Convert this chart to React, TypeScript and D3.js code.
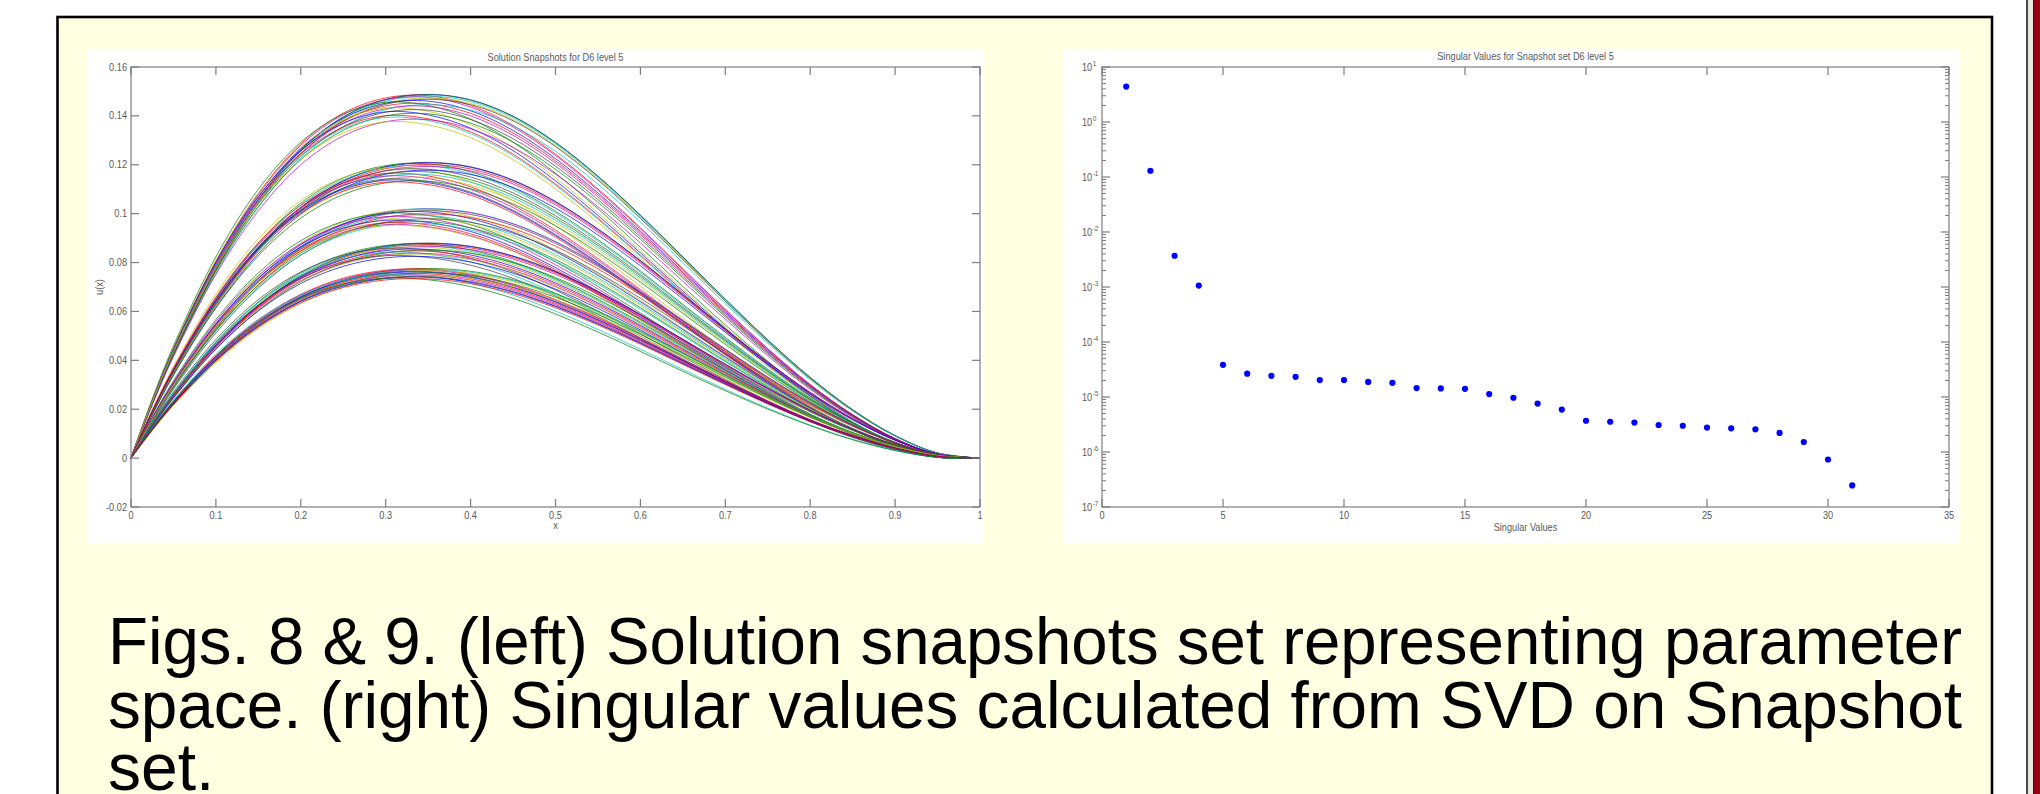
import React from 'react';
import * as d3 from 'd3';

// ---------- Left chart: solution snapshots ----------
const xGrid = [0, 0.025, 0.05, 0.1, 0.15, 0.2, 0.25, 0.3, 0.35, 0.4, 0.45, 0.5, 0.55, 0.6, 0.65, 0.7, 0.75, 0.8, 0.85, 0.9, 0.95, 1];
// normalised snapshot profiles (peak = 1)
const profileA = [0, 0.15, 0.288, 0.523, 0.71, 0.848, 0.938, 0.986, 1.0, 0.985, 0.94, 0.868, 0.775, 0.668, 0.553, 0.437, 0.325, 0.222, 0.133, 0.062, 0.014, 0];
const profileB = [0, 0.158, 0.3, 0.542, 0.73, 0.866, 0.951, 0.993, 0.999, 0.972, 0.917, 0.838, 0.742, 0.635, 0.522, 0.41, 0.302, 0.203, 0.12, 0.054, 0.01, 0];
const profileC = [0, 0.166, 0.315, 0.565, 0.755, 0.887, 0.966, 0.999, 0.99, 0.952, 0.887, 0.8, 0.7, 0.592, 0.482, 0.374, 0.272, 0.18, 0.102, 0.042, 0.004, 0];

// peak heights of the snapshot curves in each of the five bands, and which profile each follows
const band1Peaks = [0.1488, 0.1487, 0.1484, 0.1481, 0.1477, 0.1473, 0.1468, 0.1462, 0.1457, 0.1451, 0.1446, 0.144, 0.1433, 0.1425, 0.1418, 0.141, 0.1402, 0.1395, 0.1386, 0.1377];
const band1Profile = [0, 0, 1, 0, 1, 0, 0, 1, 2, 1, 0, 1, 2, 1, 2, 1, 2, 2, 1, 2];
const band2Peaks = [0.121, 0.1208, 0.1205, 0.1201, 0.1197, 0.1193, 0.1188, 0.1183, 0.1178, 0.1172, 0.1166, 0.1161, 0.1155, 0.1149, 0.1143, 0.1138, 0.1134, 0.113];
const band2Profile = [0, 0, 1, 0, 1, 0, 2, 1, 0, 1, 2, 1, 2, 1, 2, 2, 1, 2];
const band3Peaks = [0.1021, 0.1019, 0.1016, 0.1012, 0.1008, 0.1003, 0.0999, 0.0994, 0.0989, 0.0984, 0.0979, 0.0974, 0.0969, 0.0964, 0.096, 0.0956, 0.0953];
const band3Profile = [0, 0, 1, 0, 1, 2, 0, 1, 2, 1, 0, 2, 1, 2, 1, 2, 2];
const band4Peaks = [0.088, 0.0878, 0.0876, 0.0873, 0.087, 0.0866, 0.0863, 0.0859, 0.0855, 0.0851, 0.0847, 0.0843, 0.0838, 0.0834, 0.0829, 0.0825];
const band4Profile = [0, 0, 1, 0, 1, 0, 1, 2, 1, 0, 1, 2, 1, 1, 2, 1];
const band5Peaks = [0.0776, 0.0774, 0.0772, 0.077, 0.0767, 0.0764, 0.0761, 0.0758, 0.0755, 0.0752, 0.0749, 0.0746, 0.0743, 0.074, 0.0737, 0.0734];
const band5Profile = [0, 1, 0, 1, 0, 1, 1, 0, 1, 2, 1, 0, 1, 1, 2, 1];

const leftXTicks = [0, 0.1, 0.2, 0.3, 0.4, 0.5, 0.6, 0.7, 0.8, 0.9, 1];
const leftXLabels = ['0', '0.1', '0.2', '0.3', '0.4', '0.5', '0.6', '0.7', '0.8', '0.9', '1'];
const leftYTicks = [-0.02, 0, 0.02, 0.04, 0.06, 0.08, 0.1, 0.12, 0.14, 0.16];
const leftYLabels = ['-0.02', '0', '0.02', '0.04', '0.06', '0.08', '0.1', '0.12', '0.14', '0.16'];

// ---------- Right chart: singular values ----------
const svIndex = [1, 2, 3, 4, 5, 6, 7, 8, 9, 10, 11, 12, 13, 14, 15, 16, 17, 18, 19, 20, 21, 22, 23, 24, 25, 26, 27, 28, 29, 30, 31];
const svValues = [4.4, 0.13, 0.0037, 0.00106, 3.85e-5, 2.65e-5, 2.43e-5, 2.33e-5, 2.03e-5, 2.03e-5, 1.88e-5, 1.81e-5, 1.45e-5, 1.43e-5, 1.41e-5, 1.13e-5, 9.7e-6, 7.6e-6, 5.9e-6, 3.7e-6, 3.55e-6, 3.43e-6, 3.1e-6, 3.0e-6, 2.78e-6, 2.7e-6, 2.58e-6, 2.22e-6, 1.52e-6, 7.3e-7, 2.47e-7];
const rightXTicks = [0, 5, 10, 15, 20, 25, 30, 35];
const rightYExponents = [1, 0, -1, -2, -3, -4, -5, -6, -7];

const captionLines = [
  'Figs. 8 & 9. (left) Solution snapshots set representing parameter',
  'space. (right) Singular values calculated from SVD on Snapshot',
  'set.',
];

const matlabColors = ['#0000FF', '#008000', '#FF0000', '#00BFBF', '#BF00BF', '#BFBF00', '#404040'];

const AX = '#7d7d7d';
const TX = '#5a5a5a';
const FONT = "'Liberation Sans', Arial, Helvetica, sans-serif";

function SmallText(props: { x: number; y: number; anchor?: string; size?: number; children: any; rotate?: boolean }) {
  const { x, y, anchor = 'middle', size = 10, children, rotate } = props;
  const tr = rotate ? `translate(${x},${y}) rotate(-90) scale(0.92,1)` : `translate(${x},${y}) scale(0.92,1)`;
  return (
    <text transform={tr} textAnchor={anchor} fontSize={size} fill={TX} fontFamily={FONT}>
      {children}
    </text>
  );
}

export default function App() {
  const xL = d3.scaleLinear().domain([0, 1]).range([131, 980]);
  const yL = d3.scaleLinear().domain([-0.02, 0.16]).range([507, 67]);
  const xR = d3.scaleLinear().domain([0, 35]).range([1102, 1949]);
  const yR = d3.scaleLog().domain([1e-7, 10]).range([507, 67]);

  const profiles = [profileA, profileB, profileC];
  const bands: [number[], number[]][] = [
    [band1Peaks, band1Profile],
    [band2Peaks, band2Profile],
    [band3Peaks, band3Profile],
    [band4Peaks, band4Profile],
    [band5Peaks, band5Profile],
  ];
  const curves: number[][] = [];
  bands.forEach(([peaks, prof]) => {
    peaks.forEach((p, i) => {
      const pr = profiles[prof[i]];
      curves.push(pr.map((v) => v * p));
    });
  });
  const line = d3
    .line<number>()
    .x((_, i) => xL(xGrid[i]))
    .y((d) => yL(d))
    .curve(d3.curveCatmullRom);

  const minorLog: number[] = [];
  for (let e = -7; e < 1; e++) {
    for (let k = 2; k <= 9; k++) minorLog.push(k * Math.pow(10, e));
  }

  const [lx0, lx1] = xL.range();
  const [ly0, ly1] = [yL.range()[1], yL.range()[0]];
  const [rx0, rx1] = xR.range();
  const [ry0, ry1] = [yR.range()[1], yR.range()[0]];

  return (
    <svg width={2040} height={794} style={{ position: 'absolute', left: 0, top: 0, background: '#fff' }}>
      {/* page frame */}
      <rect x={0} y={0} width={2040} height={794} fill="#fff" />
      <rect x={57.5} y={17} width={1934.5} height={800} fill="#FFFFE1" stroke="#000" strokeWidth={2.6} />
      <rect x={2026} y={0} width={2} height={794} fill="#4a4a4a" />
      <rect x={2028} y={0} width={5} height={794} fill="#E9E9E2" />
      <rect x={2033} y={0} width={1} height={794} fill="#3a1010" />
      <rect x={2034} y={0} width={6} height={794} fill="#990014" />

      {/* left panel */}
      <rect x={88} y={49} width={896} height={494} fill="#fff" />
      <g>
        {curves.map((c, i) => (
          <path key={i} d={line(c) || ''} fill="none" stroke={matlabColors[i % matlabColors.length]} strokeWidth={0.9} strokeOpacity={0.8} />
        ))}
      </g>
      <rect x={lx0} y={ly0} width={lx1 - lx0} height={ly1 - ly0} fill="none" stroke={AX} strokeWidth={1.2} />
      {leftXTicks.map((t, i) => (
        <g key={'lx' + i}>
          <line x1={xL(t)} x2={xL(t)} y1={ly1} y2={ly1 - 8} stroke={AX} strokeWidth={1.2} />
          <line x1={xL(t)} x2={xL(t)} y1={ly0} y2={ly0 + 8} stroke={AX} strokeWidth={1.2} />
          <SmallText x={xL(t)} y={ly1 + 12}>{leftXLabels[i]}</SmallText>
        </g>
      ))}
      {leftYTicks.map((t, i) => (
        <g key={'ly' + i}>
          <line x1={lx0} x2={lx0 + 8} y1={yL(t)} y2={yL(t)} stroke={AX} strokeWidth={1.2} />
          <line x1={lx1} x2={lx1 - 8} y1={yL(t)} y2={yL(t)} stroke={AX} strokeWidth={1.2} />
          <SmallText x={lx0 - 4} y={yL(t) + 3.5} anchor="end">{leftYLabels[i]}</SmallText>
        </g>
      ))}
      <SmallText x={(lx0 + lx1) / 2} y={61}>Solution Snapshots for D6 level 5</SmallText>
      <SmallText x={(lx0 + lx1) / 2} y={529}>x</SmallText>
      <SmallText x={103} y={(ly0 + ly1) / 2} rotate>u(x)</SmallText>

      {/* right panel */}
      <rect x={1064} y={49} width={896} height={494} fill="#fff" />
      <rect x={rx0} y={ry0} width={rx1 - rx0} height={ry1 - ry0} fill="none" stroke={AX} strokeWidth={1.2} />
      {rightXTicks.map((t, i) => (
        <g key={'rx' + i}>
          <line x1={xR(t)} x2={xR(t)} y1={ry1} y2={ry1 - 8} stroke={AX} strokeWidth={1.2} />
          <line x1={xR(t)} x2={xR(t)} y1={ry0} y2={ry0 + 8} stroke={AX} strokeWidth={1.2} />
          <SmallText x={xR(t)} y={ry1 + 12}>{String(t)}</SmallText>
        </g>
      ))}
      {rightYExponents.map((e, i) => (
        <g key={'ry' + i}>
          <line x1={rx0} x2={rx0 + 8} y1={yR(Math.pow(10, e))} y2={yR(Math.pow(10, e))} stroke={AX} strokeWidth={1.2} />
          <line x1={rx1} x2={rx1 - 8} y1={yR(Math.pow(10, e))} y2={yR(Math.pow(10, e))} stroke={AX} strokeWidth={1.2} />
          <text transform={`translate(${1082},${yR(Math.pow(10, e)) + 3.5}) scale(0.92,1)`} fontSize={10} fill={TX} fontFamily={FONT}>
            10
            <tspan fontSize={7} dy={-4.5} dx={0.5}>{String(e)}</tspan>
          </text>
        </g>
      ))}
      {minorLog.map((v, i) => (
        <g key={'rm' + i}>
          <line x1={rx0} x2={rx0 + 4} y1={yR(v)} y2={yR(v)} stroke={AX} strokeWidth={1} />
          <line x1={rx1} x2={rx1 - 4} y1={yR(v)} y2={yR(v)} stroke={AX} strokeWidth={1} />
        </g>
      ))}
      {svIndex.map((k, i) => (
        <circle key={'sv' + i} cx={xR(k)} cy={yR(svValues[i])} r={3.1} fill="#0000FF" />
      ))}
      <SmallText x={(rx0 + rx1) / 2} y={60}>Singular Values for Snapshot set D6 level 5</SmallText>
      <SmallText x={(rx0 + rx1) / 2} y={531}>Singular Values</SmallText>

      {/* caption */}
      <text x={108} y={664} fontSize={66} fontFamily={FONT} fill="#000" textLength={1854} lengthAdjust="spacingAndGlyphs">
        {captionLines[0]}
      </text>
      <text x={108} y={728} fontSize={66} fontFamily={FONT} fill="#000" textLength={1854} lengthAdjust="spacingAndGlyphs">
        {captionLines[1]}
      </text>
      <text x={108} y={790} fontSize={66} fontFamily={FONT} fill="#000">
        {captionLines[2]}
      </text>
    </svg>
  );
}
